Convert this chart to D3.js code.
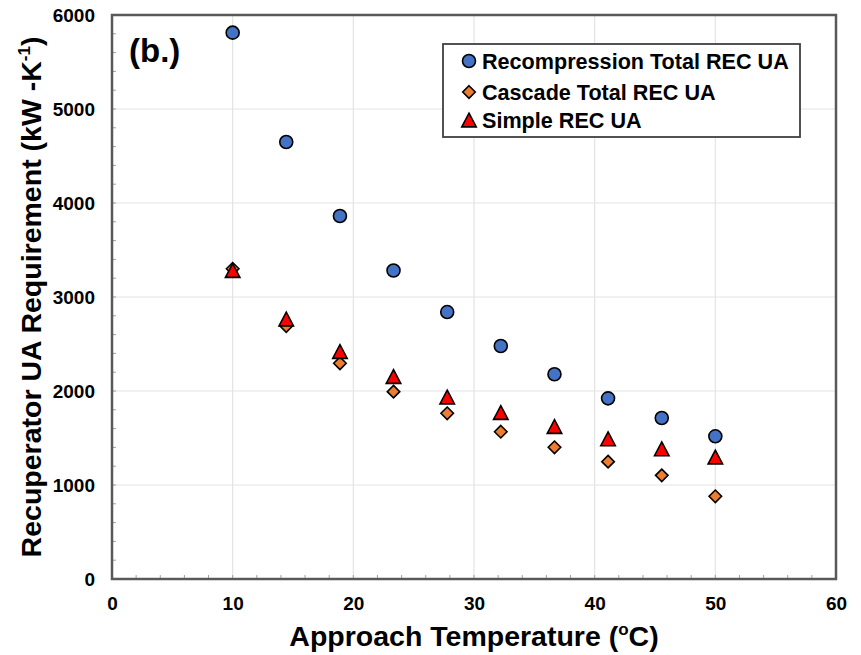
<!DOCTYPE html>
<html><head><meta charset="utf-8">
<script src="https://cdn.jsdelivr.net/npm/d3@7"></script>
<style>
html,body{margin:0;padding:0;background:#fff;}
svg{display:block;font-family:"Liberation Sans",Arial,sans-serif;}
</style></head>
<body><svg id="c" width="861" height="655"></svg>
<script>
const approachTemps = [10, 14.44, 18.89, 23.33, 27.78, 32.22, 36.67, 41.11, 45.56, 50];
const recompressionUA = [5812, 4649, 3862, 3282, 2840, 2479, 2178, 1922, 1713, 1518];
const cascadeUA = [3300, 2691, 2295, 1993, 1763, 1567, 1401, 1248, 1103, 880];
const simpleUA = [3282, 2766, 2420, 2154, 1936, 1771, 1622, 1491, 1385, 1298];
const seriesNames = ["Recompression Total REC UA", "Cascade Total REC UA", "Simple REC UA"];
const xTicks = [0, 10, 20, 30, 40, 50, 60];
const yTicks = [0, 1000, 2000, 3000, 4000, 5000, 6000];

const svg = d3.select("#c");
const L = 112, R = 836, T = 15, B = 579;
const x = d3.scaleLinear().domain([0, 60]).range([L, R]);
const y = d3.scaleLinear().domain([0, 6000]).range([B, T]);

// gridlines
svg.append("g").selectAll("line").data(xTicks.slice(1, -1)).join("line")
  .attr("x1", d => x(d)).attr("x2", d => x(d)).attr("y1", T).attr("y2", B)
  .attr("stroke", "#e3e3e3").attr("stroke-width", 1.2);
svg.append("g").selectAll("line").data(yTicks.slice(1, -1)).join("line")
  .attr("y1", d => y(d)).attr("y2", d => y(d)).attr("x1", L).attr("x2", R)
  .attr("stroke", "#e3e3e3").attr("stroke-width", 1.2);

// minor ticks (inside)
const xMinor = d3.range(0, 61, 2);
const yMinor = d3.range(0, 6001, 200);
svg.append("g").selectAll("line").data(xMinor).join("line")
  .attr("x1", d => x(d)).attr("x2", d => x(d)).attr("y1", B).attr("y2", B - 4)
  .attr("stroke", "#a0a0a0").attr("stroke-width", 1);
svg.append("g").selectAll("line").data(yMinor).join("line")
  .attr("y1", d => y(d)).attr("y2", d => y(d)).attr("x1", L).attr("x2", L + 4)
  .attr("stroke", "#a0a0a0").attr("stroke-width", 1);

// frame
svg.append("rect").attr("x", L).attr("y", T).attr("width", R - L).attr("height", B - T)
  .attr("fill", "none").attr("stroke", "#595959").attr("stroke-width", 2.5);

// axes labels
const xa = svg.append("g").attr("transform", `translate(0,${B})`)
  .call(d3.axisBottom(x).tickValues(xTicks).tickSize(0).tickPadding(18).tickFormat(d3.format("d")));
const ya = svg.append("g").attr("transform", `translate(${L},0)`)
  .call(d3.axisLeft(y).tickValues(yTicks).tickSize(0).tickPadding(17).tickFormat(d3.format("d")));
[xa, ya].forEach(g => {
  g.select(".domain").remove();
  g.selectAll("text").attr("font-size", 19).attr("font-weight", "bold").attr("fill", "#000")
    .attr("font-family", '"Liberation Sans",Arial,sans-serif');
});

// symbols
const diamond = { draw(ctx, size) { const r = Math.sqrt(size) / 2;
  ctx.moveTo(0, -r); ctx.lineTo(r, 0); ctx.lineTo(0, r); ctx.lineTo(-r, 0); ctx.closePath(); } };
const triangle = { draw(ctx, size) { const r = Math.sqrt(size) / 2;
  ctx.moveTo(0, -r * 0.95); ctx.lineTo(r, r * 0.95); ctx.lineTo(-r, r * 0.95); ctx.closePath(); } };
const circle = { draw(ctx, size) { const r = Math.sqrt(size) / 2;
  ctx.moveTo(r, 0); ctx.arc(0, 0, r, 0, 2 * Math.PI); } };

const series = [
  { name: seriesNames[0], vals: recompressionUA, type: circle, size: 13 * 13, fill: "#4472C4" },
  { name: seriesNames[1], vals: cascadeUA, type: diamond, size: 12.5 * 12.5, fill: "#ED7D31" },
  { name: seriesNames[2], vals: simpleUA, type: triangle, size: 14.5 * 14.5, fill: "#FF0000" }
];

series.forEach(s => {
  const sym = d3.symbol().type(s.type).size(s.size);
  svg.append("g").selectAll("path").data(s.vals).join("path")
    .attr("d", sym)
    .attr("transform", (d, i) => `translate(${x(approachTemps[i])},${y(d)})`)
    .attr("fill", s.fill).attr("stroke", "#000").attr("stroke-width", 1.6);
});

// legend
const lg = svg.append("g");
lg.append("rect").attr("x", 443).attr("y", 44).attr("width", 357).attr("height", 93)
  .attr("fill", "#fff").attr("stroke", "#404040").attr("stroke-width", 1.8);
const ly = [61, 92, 120];
series.forEach((s, i) => {
  lg.append("path").attr("d", d3.symbol().type(s.type).size(s.size))
    .attr("transform", `translate(469,${ly[i]})`)
    .attr("fill", s.fill).attr("stroke", "#000").attr("stroke-width", 1.6);
  lg.append("text").attr("x", 482).attr("y", ly[i]).attr("dy", "0.36em")
    .attr("font-size", 21.6).attr("font-weight", "bold").attr("fill", "#000").text(s.name);
});

// panel label
svg.append("text").attr("x", 129).attr("y", 62).attr("font-size", 33)
  .attr("font-weight", "bold").text("(b.)");

// x title
const xt = svg.append("text").attr("x", 474).attr("y", 646).attr("text-anchor", "middle")
  .attr("font-size", 28.5).attr("font-weight", "bold");
xt.append("tspan").text("Approach Temperature (");
xt.append("tspan").attr("font-size", 17).attr("dy", -11).text("o");
xt.append("tspan").attr("dy", 11).text("C)");

// y title
const yt = svg.append("text").attr("transform", `translate(41,${(T + B) / 2}) rotate(-90)`)
  .attr("text-anchor", "middle").attr("font-size", 28.5).attr("font-weight", "bold");
yt.append("tspan").text("Recuperator UA Requirement (kW -K");
yt.append("tspan").attr("font-size", 17).attr("dy", -11).text("-1");
yt.append("tspan").attr("dy", 11).text(")");
</script></body></html>
